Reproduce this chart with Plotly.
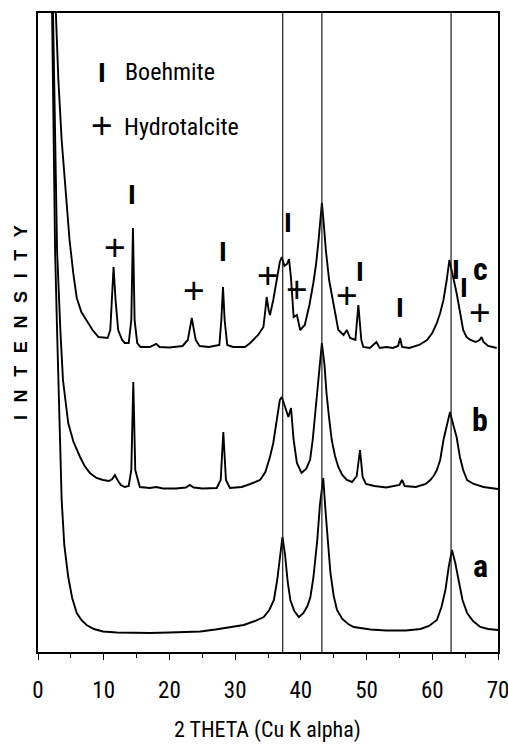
import plotly.graph_objects as go

# ---- XRD patterns (2-theta in degrees, intensity in arbitrary units, stacked) ----
two_theta_a = [2.0, 2.3, 2.6, 2.9, 3.3, 3.6, 4.0, 4.6, 5.2, 5.9, 6.6, 7.4, 8.5, 9.9, 12.0, 14.5,
               17.0, 20.0, 22.5, 24.7, 27.0, 29.7, 31.3, 33.0, 34.35, 35.2, 35.9, 36.4, 36.8, 37.2,
               37.6, 38.0, 38.4, 39.0, 39.7, 40.4, 41.0, 41.45, 41.9, 42.2, 42.5, 42.9, 43.4, 43.8,
               44.2, 44.5, 45.0, 45.5, 46.3, 47.2, 48.05, 50.6, 53.0, 56.0, 58.2, 59.5, 60.7, 61.4,
               62.0, 62.5, 63.0, 63.5, 64.0, 64.6, 65.3, 66.2, 67.3, 68.5, 70.0]
intensity_a = [712, 552, 402, 322, 222, 152, 107, 75, 54, 39, 32, 27, 23, 20.5, 19.5, 19,
               19, 19.5, 20, 20.5, 22.5, 25, 27, 31, 35, 42, 52, 72, 97, 115,
               97, 70, 52, 41, 35, 39, 46, 55, 74, 92, 112, 147, 174, 137,
               102, 79, 56, 42, 33, 28, 25, 22.5, 21.5, 21.5, 23, 26, 32, 45,
               62, 85, 102, 89, 72, 52, 39, 31, 25, 23, 22]

two_theta_b = [2.1, 2.5, 2.9, 3.4, 3.8, 4.6, 5.4, 6.4, 7.1, 7.9, 8.9, 9.9, 10.8, 11.3, 11.7,
               12.1, 12.6, 13.2, 13.8, 14.2, 14.5, 14.8, 15.5, 17.0, 18.0, 19.0, 21.0, 22.5,
               23.1, 23.7, 25.0, 27.2, 27.8, 28.2, 28.6, 29.2, 31.0, 32.3, 33.8, 34.6, 35.3,
               35.8, 36.3, 36.8, 37.1, 37.5, 38.1, 38.5, 38.9, 39.4, 40.1, 40.8, 41.4, 41.8,
               42.2, 42.7, 43.2, 43.6, 43.9, 44.3, 44.7, 45.2, 45.7, 46.3, 47.0, 47.8, 48.5,
               49.0, 49.4, 49.9, 51.2, 53.0, 55.0, 55.4, 55.8, 57.5, 59.0, 59.7, 60.2, 60.7,
               61.2, 61.7, 62.2, 62.7, 63.2, 63.7, 64.2, 64.7, 65.3, 66.3, 67.8, 70.0]
intensity_b = [712, 552, 402, 322, 272, 229, 210, 195, 186, 179, 174, 172, 171, 173, 177,
               172, 167, 165, 166, 182, 270, 182, 165, 164, 165, 163.5, 163.5, 164.5,
               167, 164.5, 163.5, 164, 172, 220, 172, 164, 165, 168, 172, 180, 195,
               209, 229, 252, 255, 247, 235, 244, 212, 189, 179, 183, 192, 212,
               239, 279, 309, 287, 259, 234, 212, 196, 185, 177, 172, 170, 176,
               202, 175, 168, 166, 164.5, 167, 172, 166, 165, 168, 172, 176, 182,
               192, 212, 227, 240, 227, 215, 195, 182, 172, 168, 165, 163]

two_theta_c = [2.3, 2.7, 3.1, 3.6, 4.2, 4.8, 5.4, 5.9, 6.6, 7.4, 8.3, 9.2, 10.0, 10.6, 11.0,
               11.25, 11.5, 11.8, 12.2, 12.8, 13.2, 13.8, 14.2, 14.45, 14.7, 15.1, 15.6, 17.0,
               18.0, 18.5, 20.0, 22.0, 22.8, 23.4, 24.0, 24.6, 26.0, 27.6, 27.9, 28.15, 28.4,
               28.8, 29.7, 31.5, 32.3, 33.5, 34.3, 34.6, 34.8, 35.1, 35.3, 35.8, 36.3, 36.8,
               37.1, 37.5, 37.9, 38.2, 38.5, 38.9, 39.4, 39.9, 40.6, 41.3, 41.9, 42.3, 42.7,
               43.2, 43.5, 43.8, 44.3, 44.9, 45.7, 46.5, 47.0, 47.5, 48.3, 48.75, 49.2, 49.5,
               50.5, 51.5, 52.0, 53.0, 54.0, 54.8, 55.1, 55.4, 56.5, 58.0, 59.2, 60.0, 60.7,
               61.2, 61.7, 62.2, 62.6, 63.0, 63.7, 64.3, 64.7, 65.2, 65.8, 66.6, 67.2, 67.5,
               67.8, 68.5, 69.8]
intensity_c = [712, 639, 572, 512, 462, 412, 377, 354, 340, 332, 322, 315, 314, 314, 322,
               352, 385, 352, 322, 312, 309, 309, 332, 424, 332, 309, 305, 305,
               308, 305, 304.5, 306, 312, 334, 312, 306, 305, 307, 332, 365, 332,
               307, 305, 305, 309, 317, 325, 342, 355, 342, 337, 352, 372, 390,
               395, 386, 388, 393, 374, 335, 337, 322, 327, 347, 369, 387, 412,
               449, 427, 402, 372, 352, 322, 317, 322, 314, 312, 347, 312, 305,
               304, 310, 304, 305, 304, 306, 314, 305, 304, 307, 312, 319, 329,
               339, 352, 372, 392, 380, 359, 337, 322, 315, 312, 310, 312, 315,
               310, 306, 304]

# Phase markers: peak position (2-theta) and the height the marker sits at
boehmite_peaks = [14.35, 28.1, 38.1, 49.0, 55.05, 63.65, 64.8]
boehmite_levels = [458, 401, 430, 381, 344.5, 383, 364.5]
hydrotalcite_peaks = [11.77, 23.7, 35.0, 39.42, 47.0, 67.32]
hydrotalcite_levels = [404.5, 362, 376.5, 363, 356.3, 339.5]

# Reference reflections drawn as full-height lines
reference_lines = [37.24, 43.2, 62.86]

pattern_names = ["a", "b", "c"]
pattern_label_levels = [86, 232, 383]

x_ticks = [0, 10, 20, 30, 40, 50, 60, 70]

NARROW = "Roboto Condensed, Liberation Sans Narrow, DejaVu Sans Condensed, sans-serif"
ARIAL = "Liberation Sans, Arial, Helvetica, sans-serif"

fig = go.Figure()
for xs, ys in [(two_theta_a, intensity_a), (two_theta_b, intensity_b), (two_theta_c, intensity_c)]:
    fig.add_trace(go.Scatter(x=xs, y=ys, mode="lines",
                             line=dict(color="black", width=1.9),
                             showlegend=False, hoverinfo="skip"))

for xv in reference_lines:
    fig.add_shape(type="line", x0=xv, x1=xv, xref="x", y0=0, y1=1, yref="paper",
                  line=dict(color="#1a1a1a", width=1.2))

BAR_FONT = dict(family=ARIAL, size=28, color="black", weight="bold")
PLUS_FONT = dict(family=ARIAL, size=37, color="black")

annotations = []
for xv, yv in zip(boehmite_peaks, boehmite_levels):
    annotations.append(dict(x=xv, y=yv, text="I", showarrow=False, xanchor="center", yanchor="middle",
                            font=BAR_FONT))
for xv, yv in zip(hydrotalcite_peaks, hydrotalcite_levels):
    annotations.append(dict(x=xv, y=yv, text="+", showarrow=False, xanchor="center", yanchor="middle",
                            font=PLUS_FONT))

# Key
annotations += [
    dict(x=9.74, y=580, text="I", showarrow=False, xanchor="center", yanchor="middle", font=BAR_FONT),
    dict(x=12.9, y=580, text="Boehmite", showarrow=False, xanchor="left", yanchor="middle",
         font=dict(family=NARROW, size=24, color="black")),
    dict(x=9.8, y=527, text="+", showarrow=False, xanchor="center", yanchor="middle", font=PLUS_FONT),
    dict(x=12.75, y=525, text="Hydrotalcite", showarrow=False, xanchor="left", yanchor="middle",
         font=dict(family=NARROW, size=24, color="black")),
]

for name, lvl in zip(pattern_names, pattern_label_levels):
    annotations.append(dict(x=67.3, y=lvl, text=name, showarrow=False, xanchor="center", yanchor="middle",
                            font=dict(family=NARROW, size=32, color="black", weight="bold")))

spaced = "\u2002\u2009".join("INTENSITY")
annotations.append(dict(x=-0.037, xref="paper", y=330, yref="y", text=spaced, textangle=-90,
                        showarrow=False, xanchor="center", yanchor="middle",
                        font=dict(family=ARIAL, size=18, color="black", weight="bold")))
annotations.append(dict(x=0.499, xref="paper", y=-0.122, yref="paper", text="2 THETA (Cu K alpha)",
                        showarrow=False, xanchor="center", yanchor="middle",
                        font=dict(family=NARROW, size=22, color="black")))

fig.update_layout(
    width=508, height=749,
    margin=dict(l=38, r=10, t=13, b=97),
    paper_bgcolor="white", plot_bgcolor="white",
    annotations=annotations,
    xaxis=dict(range=[0, 70], tickvals=x_ticks, ticktext=[str(t) for t in x_ticks],
               ticks="outside", ticklen=6, tickwidth=1.3, tickcolor="black",
               minor=dict(dtick=5, tick0=0, ticks="outside", ticklen=4, tickwidth=1, tickcolor="black"),
               showline=True, linecolor="black", linewidth=1.8, mirror=True, automargin=False,
               showgrid=False, zeroline=False, ticklabelstandoff=10, ticklabeloverflow="allow",
               tickfont=dict(family=NARROW, size=23, color="black")),
    yaxis=dict(range=[0, 639], showticklabels=False, ticks="", showgrid=False, zeroline=False,
               showline=True, linecolor="black", linewidth=1.5, mirror=True, automargin=False),
)

fig.write_html("out.html")
